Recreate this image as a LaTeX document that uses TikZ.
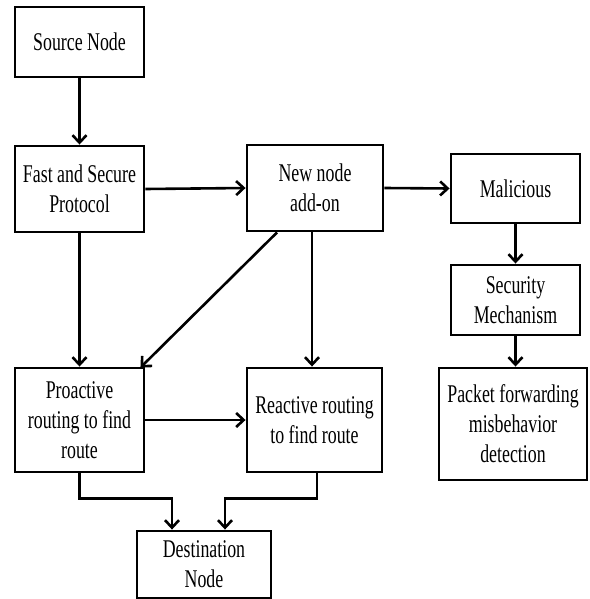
\documentclass[tikz,border=0pt]{standalone}
\usepackage{fontspec}
\setmainfont[FakeStretch=0.7]{Liberation Serif}
\usetikzlibrary{arrows.meta}
\tikzset{
  box/.style={draw=black, line width=2.9pt, fill=white, align=center, inner sep=0pt,
    font=\fontsize{25.5pt}{30pt}\selectfont},
  link/.style={line width=2.6pt, -{Straight Barb[length=7.5pt,width=14pt,line width=2.6pt]}}
}
\begin{document}
\begin{tikzpicture}[x=1pt,y=-1pt]
\useasboundingbox (0,0) rectangle (589,599);
\fill[white] (0,0) rectangle (589,599);

% boxes
\node[box, minimum width=129pt, minimum height=70pt]  (src) at (79.5,42)   {Source Node};
\node[box, minimum width=129pt, minimum height=86pt]  (fast) at (79.5,189) {Fast and Secure\\Protocol};
\node[box, minimum width=136pt, minimum height=86pt]  (new) at (315,188)   {New node\\add-on};
\node[box, minimum width=129pt, minimum height=69pt]  (mal) at (515.5,188.5) {Malicious};
\node[box, minimum width=129pt, minimum height=70pt]  (sec) at (515.5,300) {Security\\Mechanism};
\node[box, minimum width=148pt, minimum height=112pt] (pkt) at (513,424)   {Packet forwarding\\misbehavior\\detection};
\node[box, minimum width=129pt, minimum height=104pt] (pro) at (79.5,420)  {Proactive\\routing to find\\route};
\node[box, minimum width=135pt, minimum height=104pt] (rea) at (314.5,420) {Reactive routing\\to find route};
\node[box, minimum width=134pt, minimum height=67pt]  (dst) at (204,564.5) {Destination\\Node};

% connectors
\draw[link] (src.south) -- (fast.north);
\draw[link] (fast.east) -- (new.west);
\draw[link] (new.east) -- (mal.west);
\draw[link] (mal.south) -- (sec.north);
\draw[link] (sec.south) -- (sec.south |- pkt.north);
\draw[link] ([xshift=-3pt]new.south) -- ([xshift=-3pt]new.south |- rea.north);
\draw[link] ([xshift=-38pt]new.south) -- ([xshift=-5pt,yshift=-1pt]pro.north east);
\draw[link] (fast.south) -- (pro.north);
\draw[link] (pro.east) -- (rea.west);
\draw[link] (pro.south) -- ++(0,25) -| ([xshift=-32pt]dst.north);
\draw[link] ([xshift=2.5pt]rea.south) -- ++(0,25) -| ([xshift=21pt]dst.north);
\end{tikzpicture}
\end{document}
